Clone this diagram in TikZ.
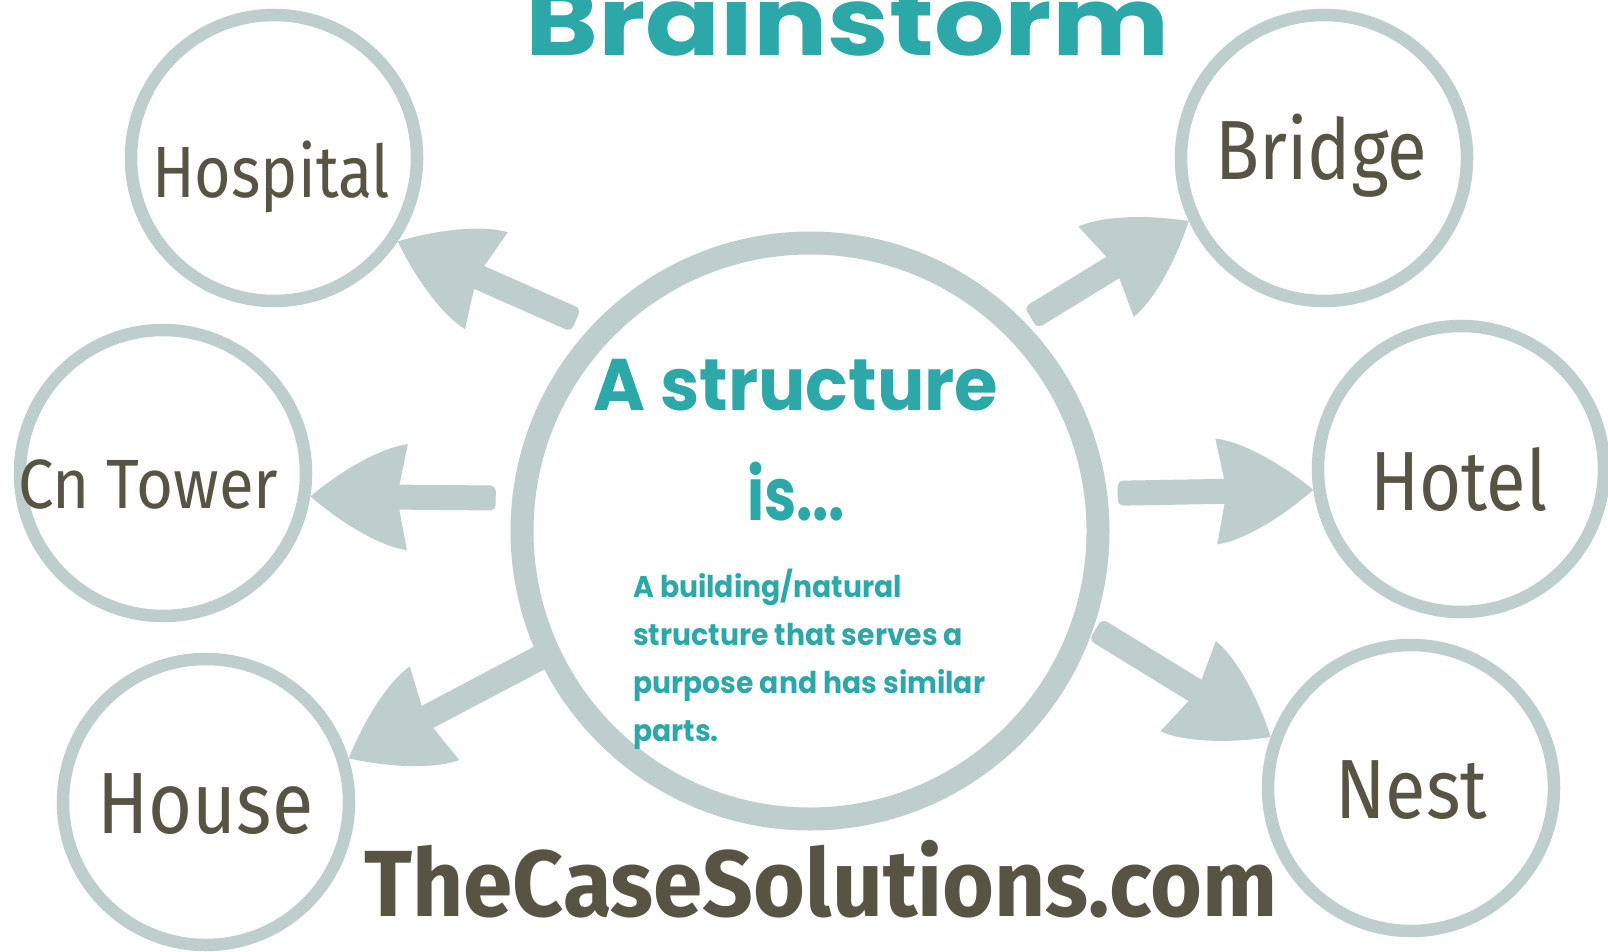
\documentclass[tikz,border=0pt]{standalone}
\usepackage{fontspec}
\usepackage{graphicx}
\setmainfont{Fira Sans}
\newfontfamily\hand{Poppins}
\usetikzlibrary{calc}
\definecolor{ringc}{RGB}{190,206,205}
\definecolor{labc}{RGB}{88,84,68}
\definecolor{tealc}{RGB}{44,168,168}
\pgfdeclarelayer{bg}
\pgfsetlayers{bg,main}
\newcommand\fitw[3]{\resizebox{#1pt}{\height}{\fontsize{#2}{#2}\selectfont #3}}
\newcommand\blockarrow[2]{%
  \pgfmathanglebetweenpoints{\pgfpointanchor{#1}{center}}{\pgfpointanchor{#2}{center}}%
  \let\baang\pgfmathresult
  \pgfpointdiff{\pgfpointanchor{#1}{center}}{\pgfpointanchor{#2}{center}}%
  \pgfgetlastxy{\bax}{\bay}%
  \pgfmathsetmacro\balen{veclen(\bax,\bay)}%
  \fill[arrowc, shift={(#2)}, rotate=\baang]
    (0,0) .. controls (-28,24) and (-68,49) .. (-97,53)
    -- (-89,12.5) [rounded corners=6pt] -- (-\balen,12.5) -- (-\balen,-12.5) [sharp corners] -- (-89,-12.5)
    -- (-97,-53) .. controls (-68,-49) and (-28,-24) .. (0,0) -- cycle;
}
\tikzset{
  bubble/.style={circle, draw=ringc, line width=12.5pt, minimum size=286pt, inner sep=0pt},
  hub/.style={circle, draw=ringc, line width=23pt, minimum size=576pt, inner sep=0pt},
  arrowc/.style={fill=ringc},
  lab/.style={anchor=base west, inner sep=0pt, text=labc},
  tl/.style={anchor=base west, inner sep=0pt, text=tealc}
}
\begin{document}
\begin{tikzpicture}[x=1pt,y=-1pt]
\useasboundingbox (0,0) rectangle (1608,952);
\clip (0,0) rectangle (1608,952);

% outer circles
\node[bubble] (hosp) at (274,158) {};
\node[bubble] (cnt)  at (163,473) {};
\node[bubble] (brid) at (1324,158) {};
\node[bubble] (hot)  at (1461,469) {};
\node[bubble] (nest) at (1411,788) {};
\node[bubble] (hous) at (206,802) {};
% centre circle
\node[hub] (c) at (810,531) {};

% arrow ends
\coordinate (a1s) at ($(c.center)!315pt!(c.138.7)$);
\coordinate (a1t) at (hosp.-34);
\coordinate (a2s) at ($(c.center)!316pt!(c.174)$);
\coordinate (a2t) at (cnt.-9.5);
\coordinate (a3s) at ($(c.center)!285pt!(c.205.8)$);
\coordinate (a3t) at (hous.17.5);
\coordinate (a4s) at ($(c.center)!307pt!(c.44.3)$);
\coordinate (a4t) at (brid.205.3);
\coordinate (a5s) at ($(c.center)!310pt!(c.7.6)$);
\coordinate (a5t) at (hot.188);
\coordinate (a6s) at ($(c.center)!302pt!(c.-19.75)$);
\coordinate (a6t) at (nest.160.7);

\begin{pgfonlayer}{bg}
\fill[white] (0,0) rectangle (1608,952);
\blockarrow{a1s}{a1t}
\blockarrow{a2s}{a2t}
\blockarrow{a3s}{a3t}
\blockarrow{a4s}{a4t}
\blockarrow{a5s}{a5t}
\blockarrow{a6s}{a6t}
\end{pgfonlayer}

% labels
\node[lab] (hospT) at (152,197) {\fitw{238}{72.6}{Hospital}};
\node[lab] (cntT)  at (18,508)  {\fitw{260}{69.7}{Cn Tower}};
\node[lab] (bridT) at (1215,180) {\fitw{212}{84}{Bridge}};
\node[lab] (hotT)  at (1370,510) {\fitw{177}{84}{Hotel}};
\node[lab] (nestT) at (1335,818) {\fitw{152}{84}{Nest}};
\node[lab] (housT) at (97,833)  {\fitw{216}{87}{House}};
\node[lab] (site)  at (364,916) {\fitw{913}{94}{\bfseries TheCaseSolutions.com}};

% teal texts
\node[tl] (title) at (525,56) {\fitw{644}{95}{\hand\bfseries Brainstorm}};
\node[tl] (s1) at (593,410) {\fitw{405}{73}{\hand\bfseries A structure}};
\node[tl] (s2) at (747,520) {\fitw{98}{73}{\hand\bfseries is...}};
\node[tl] (para) at (633,597) {\resizebox{352pt}{\height}{\fontsize{30}{48}\selectfont\hand\bfseries
  \begin{tabular}[t]{@{}l@{}}A building/natural\\ structure that serves a\\ purpose and has similar\\ parts.\end{tabular}}};
\end{tikzpicture}
\end{document}
